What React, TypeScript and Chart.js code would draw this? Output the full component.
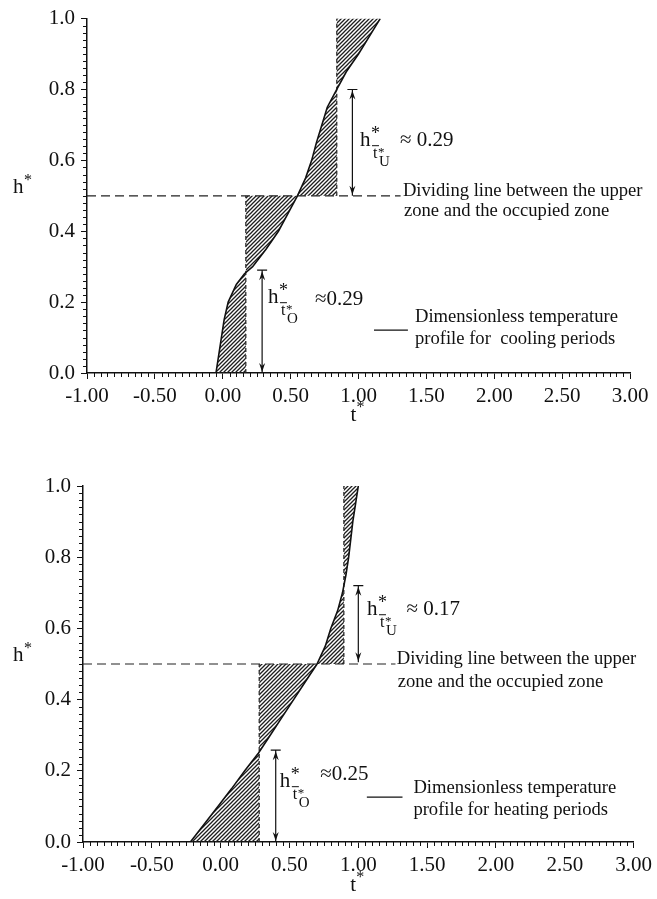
import React, { useEffect, useRef } from 'react';
import { Chart, registerables } from 'chart.js';

Chart.register(...registerables);

const FONT = "'Liberation Serif', 'Times New Roman', serif";

// ---- axis ticks ----
const xTickValues = [-1, -0.5, 0, 0.5, 1, 1.5, 2, 2.5, 3];
const xTickLabels = ['-1.00', '-0.50', '0.00', '0.50', '1.00', '1.50', '2.00', '2.50', '3.00'];
const yTickValues = [0, 0.2, 0.4, 0.6, 0.8, 1.0];
const yTickLabels = ['0.0', '0.2', '0.4', '0.6', '0.8', '1.0'];

const dividingH = 0.5;

// ---- cooling periods (top) : dimensionless temperature t* vs height h* ----
const coolingH = [0, 0.05, 0.1, 0.15, 0.2, 0.25, 0.28, 0.3, 0.35, 0.4, 0.45, 0.5, 0.55, 0.6, 0.65, 0.7, 0.75, 0.8, 0.85, 0.9, 0.95, 1.0];
const coolingT = [-0.05, -0.03, -0.01, 0.01, 0.04, 0.1, 0.16, 0.22, 0.32, 0.41, 0.48, 0.55, 0.61, 0.655, 0.69, 0.73, 0.77, 0.84, 0.91, 1.0, 1.08, 1.16];
const coolingMeanOccupied = 0.17;
const coolingMeanUpper = 0.84;
const coolingArrowT = [0.29, 0.955];
const coolingArrowFrom = [0, 0.5];
const coolingArrowTo = [0.29, 0.8];
const coolingValues = ['\u22480.29', '\u2248 0.29'];
const coolingLegend = ['Dimensionless temperature', 'profile for  cooling periods'];

// ---- heating periods (bottom) ----
const heatingH = [0, 0.05, 0.1, 0.15, 0.2, 0.25, 0.3, 0.35, 0.4, 0.45, 0.5, 0.55, 0.6, 0.65, 0.7, 0.75, 0.8, 0.85, 0.9, 0.95, 1.0];
const heatingT = [-0.22, -0.12, -0.02, 0.08, 0.175, 0.275, 0.36, 0.445, 0.53, 0.615, 0.7, 0.76, 0.8, 0.85, 0.885, 0.91, 0.93, 0.945, 0.96, 0.98, 1.0];
const heatingMeanOccupied = 0.28;
const heatingMeanUpper = 0.895;
const heatingArrowT = [0.4, 1.0];
const heatingArrowFrom = [0, 0.505];
const heatingArrowTo = [0.258, 0.72];
const heatingValues = ['\u22480.25', '\u2248 0.17'];
const heatingLegend = ['Dimensionless temperature', 'profile for heating periods'];

const dividerText = ['Dividing line between the upper', 'zone and the occupied zone'];

type Panel = {
  width: number; height: number; top: number;
  padTop: number; padRight: number; yAxisWidth: number; xAxisHeight: number;
  h: number[]; t: number[]; meanO: number; meanU: number;
  arrowT: number[]; arrowFrom: number[]; arrowTo: number[];
  values: string[]; legend: string[];
  dividerEnd: number; titleDy: number;
  lay: {
    hO: [number, number]; vO: [number, number];
    hU: [number, number]; vU: [number, number];
    divText: [number, number, number];
    legText: [number, number, number];
    legLine: [number, number, number];
  };
};

const panels: Panel[] = [
  {
    width: 657, height: 430, top: 0,
    padTop: 17, padRight: 27, yAxisWidth: 87, xAxisHeight: 57,
    h: coolingH, t: coolingT, meanO: coolingMeanOccupied, meanU: coolingMeanUpper,
    arrowT: coolingArrowT, arrowFrom: coolingArrowFrom, arrowTo: coolingArrowTo,
    values: coolingValues, legend: coolingLegend, dividerEnd: 1.31, titleDy: 48,
    lay: {
      hO: [0.333, 0.197], vO: [0.68, 0.191],
      hU: [1.011, 0.64], vU: [1.306, 0.64],
      divText: [1.327, 0.5, 0.444],
      legText: [1.416, 0.143, 0.081],
      legLine: [1.114, 1.364, 0.121],
    },
  },
  {
    width: 657, height: 469, top: 430,
    padTop: 56, padRight: 18, yAxisWidth: 83, xAxisHeight: 57,
    h: heatingH, t: heatingT, meanO: heatingMeanOccupied, meanU: heatingMeanUpper,
    arrowT: heatingArrowT, arrowFrom: heatingArrowFrom, arrowTo: heatingArrowTo,
    values: heatingValues, legend: heatingLegend, dividerEnd: 1.27, titleDy: 49,
    lay: {
      hO: [0.43, 0.154], vO: [0.724, 0.173],
      hU: [1.063, 0.637], vU: [1.35, 0.637],
      divText: [1.279, 0.5, 0.435],
      legText: [1.4, 0.137, 0.075],
      legLine: [1.062, 1.321, 0.126],
    },
  },
];

function makeHatch(ctx: CanvasRenderingContext2D) {
  const c = document.createElement('canvas');
  c.width = 4; c.height = 4;
  const g = c.getContext('2d')!;
  g.strokeStyle = '#1e1e1e';
  g.lineWidth = 1.3;
  g.beginPath();
  g.moveTo(0, 4); g.lineTo(4, 0);
  g.moveTo(-1, 1); g.lineTo(1, -1);
  g.moveTo(3, 5); g.lineTo(5, 3);
  g.stroke();
  return ctx.createPattern(c, 'repeat')!;
}

function drawHLabel(ctx: CanvasRenderingContext2D, x0: number, y0: number, sub: string) {
  ctx.font = `21px ${FONT}`; ctx.fillText('h', x0, y0);
  ctx.font = `18px ${FONT}`; ctx.fillText('*', x0 + 11, y0 - 7);
  ctx.fillRect(x0 + 12, y0 - 1, 7, 1);
  ctx.font = `16px ${FONT}`; ctx.fillText('t', x0 + 13, y0 + 12);
  ctx.font = `13px ${FONT}`; ctx.fillText('*', x0 + 18, y0 + 10);
  ctx.font = `15px ${FONT}`; ctx.fillText(sub, x0 + 19, y0 + 20);
}

function drawArrow(ctx: CanvasRenderingContext2D, x: number, yB: number, yT: number) {
  ctx.beginPath();
  ctx.moveTo(x, yB); ctx.lineTo(x, yT);
  ctx.moveTo(x - 5, yT); ctx.lineTo(x + 5, yT);
  ctx.stroke();
  ctx.beginPath();
  ctx.moveTo(x - 3, yT + 10); ctx.lineTo(x, yT + 1); ctx.lineTo(x + 3, yT + 10); ctx.lineTo(x, yT + 7); ctx.closePath();
  ctx.moveTo(x - 3, yB - 10); ctx.lineTo(x, yB - 1); ctx.lineTo(x + 3, yB - 10); ctx.lineTo(x, yB - 7); ctx.closePath();
  ctx.fill();
}

function makeOverlay(p: Panel) {
  return {
    id: 'overlay',
    afterDraw(chart: any) {
      const ctx: CanvasRenderingContext2D = chart.ctx;
      const xs = chart.scales.x, ys = chart.scales.y;
      const X = (v: number) => xs.getPixelForValue(v);
      const Y = (v: number) => ys.getPixelForValue(v);
      const a = chart.chartArea;
      ctx.save();
      ctx.strokeStyle = '#111';
      ctx.fillStyle = '#111';
      ctx.lineWidth = 1;
      // minor ticks
      ctx.beginPath();
      for (let i = 0; i <= 80; i++) {
        if (i % 10 === 0) continue;
        const x = Math.round(X(-1 + i * 0.05)) + 0.5;
        ctx.moveTo(x, a.bottom); ctx.lineTo(x, a.bottom + 4);
      }
      for (let i = 0; i <= 50; i++) {
        if (i % 10 === 0) continue;
        const y = Math.round(Y(i * 0.02)) + 0.5;
        ctx.moveTo(a.left - 4, y); ctx.lineTo(a.left, y);
      }
      ctx.stroke();
      // arrows
      ctx.lineWidth = 1.2;
      p.arrowT.forEach((t, i) => drawArrow(ctx, X(t), Y(p.arrowFrom[i]), Y(p.arrowTo[i])));
      // legend sample line
      ctx.lineWidth = 1.2;
      ctx.beginPath();
      ctx.moveTo(X(p.lay.legLine[0]), Y(p.lay.legLine[2]));
      ctx.lineTo(X(p.lay.legLine[1]), Y(p.lay.legLine[2]));
      ctx.stroke();
      // texts
      ctx.textAlign = 'left';
      ctx.textBaseline = 'alphabetic';
      drawHLabel(ctx, X(p.lay.hO[0]), Y(p.lay.hO[1]), 'O');
      drawHLabel(ctx, X(p.lay.hU[0]), Y(p.lay.hU[1]), 'U');
      ctx.font = `21px ${FONT}`;
      ctx.fillText(p.values[0], X(p.lay.vO[0]), Y(p.lay.vO[1]));
      ctx.fillText(p.values[1], X(p.lay.vU[0]), Y(p.lay.vU[1]));
      ctx.font = `18.6px ${FONT}`;
      ctx.fillText(dividerText[0], X(p.lay.divText[0]), Y(p.lay.divText[1]));
      ctx.fillText(dividerText[1], X(p.lay.divText[0]) + 1, Y(p.lay.divText[2]));
      ctx.fillText(p.legend[0], X(p.lay.legText[0]), Y(p.lay.legText[1]));
      ctx.fillText(p.legend[1], X(p.lay.legText[0]), Y(p.lay.legText[2]));
      // axis titles
      const hy = Y(dividingH) - 3;
      ctx.font = `21px ${FONT}`; ctx.fillText('h', 13, hy);
      ctx.font = `16px ${FONT}`; ctx.fillText('*', 24, hy - 8);
      const tx = (a.left + a.right) / 2 - 8;
      const ty = a.bottom + p.titleDy;
      ctx.font = `21px ${FONT}`; ctx.fillText('t', tx, ty);
      ctx.font = `16px ${FONT}`; ctx.fillText('*', tx + 6, ty - 9);
      ctx.restore();
    },
  };
}

function PanelChart({ p }: { p: Panel }) {
  const ref = useRef<HTMLCanvasElement>(null);
  useEffect(() => {
    const canvas = ref.current!;
    const ctx = canvas.getContext('2d')!;
    const hatch = makeHatch(ctx);
    const pts = p.t.map((t, i) => ({ x: t, y: p.h[i] }));
    const lowerPoly = [...pts.filter((q) => q.y <= dividingH), { x: p.meanO, y: dividingH }, { x: p.meanO, y: 0 }];
    const upperPoly = [...pts.filter((q) => q.y >= dividingH), { x: p.meanU, y: 1 }, { x: p.meanU, y: dividingH }];
    const base = { pointRadius: 0, pointHoverRadius: 0, tension: 0 };
    const chart = new Chart(ctx, {
      type: 'line',
      data: {
        datasets: [
          { ...base, data: pts, borderColor: '#111', borderWidth: 1.6, fill: false },
          { ...base, data: [{ x: p.meanO, y: 0 }, { x: p.meanO, y: dividingH }], borderColor: '#222', borderWidth: 1.2, borderDash: [4, 3], fill: false },
          { ...base, data: [{ x: p.meanU, y: dividingH }, { x: p.meanU, y: 1 }], borderColor: '#222', borderWidth: 1.2, borderDash: [4, 3], fill: false },
          { ...base, data: [{ x: -1, y: dividingH }, { x: p.dividerEnd, y: dividingH }], borderColor: '#222', borderWidth: 1.2, borderDash: [9, 5], fill: false },
          { ...base, data: lowerPoly, borderColor: 'rgba(0,0,0,0)', borderWidth: 1, backgroundColor: hatch, fill: 'shape' },
          { ...base, data: upperPoly, borderColor: 'rgba(0,0,0,0)', borderWidth: 1, backgroundColor: hatch, fill: 'shape' },
        ],
      } as any,
      options: {
        animation: false,
        responsive: false,
        devicePixelRatio: 1,
        events: [],
        layout: { padding: { left: 0, right: p.padRight, top: p.padTop, bottom: 0 } },
        plugins: { legend: { display: false }, tooltip: { enabled: false }, title: { display: false } },
        scales: {
          x: {
            type: 'linear', min: -1, max: 3,
            afterBuildTicks: (s: any) => { s.ticks = xTickValues.map((v) => ({ value: v })); },
            afterFit: (s: any) => { s.height = p.xAxisHeight; },
            ticks: {
              autoSkip: false, maxRotation: 0, padding: 5, color: '#111',
              font: { family: FONT, size: 21 },
              callback: (v: any) => xTickLabels[xTickValues.indexOf(Number(v))] ?? '',
            },
            grid: { display: true, drawOnChartArea: false, drawTicks: true, tickLength: 6, color: '#111', lineWidth: 1 },
            border: { display: true, color: '#111', width: 1.5 },
          },
          y: {
            type: 'linear', min: 0, max: 1,
            afterBuildTicks: (s: any) => { s.ticks = yTickValues.map((v) => ({ value: v })); },
            afterFit: (s: any) => { s.width = p.yAxisWidth; },
            ticks: {
              autoSkip: false, padding: 6, color: '#111',
              font: { family: FONT, size: 21 },
              callback: (v: any) => yTickLabels[yTickValues.findIndex((q) => Math.abs(q - Number(v)) < 1e-9)] ?? '',
            },
            grid: { display: true, drawOnChartArea: false, drawTicks: true, tickLength: 6, color: '#111', lineWidth: 1 },
            border: { display: true, color: '#111', width: 1.5 },
          },
        },
      } as any,
      plugins: [makeOverlay(p)],
    });
    return () => chart.destroy();
  }, [p]);
  return (
    <div style={{ position: 'absolute', left: 0, top: p.top, width: p.width, height: p.height }}>
      <canvas ref={ref} width={p.width} height={p.height} style={{ display: 'block' }} />
    </div>
  );
}

export default function App() {
  return (
    <div style={{ position: 'absolute', left: 0, top: 0, width: 657, height: 899, background: '#fff' }}>
      {panels.map((p, i) => <PanelChart key={i} p={p} />)}
    </div>
  );
}
